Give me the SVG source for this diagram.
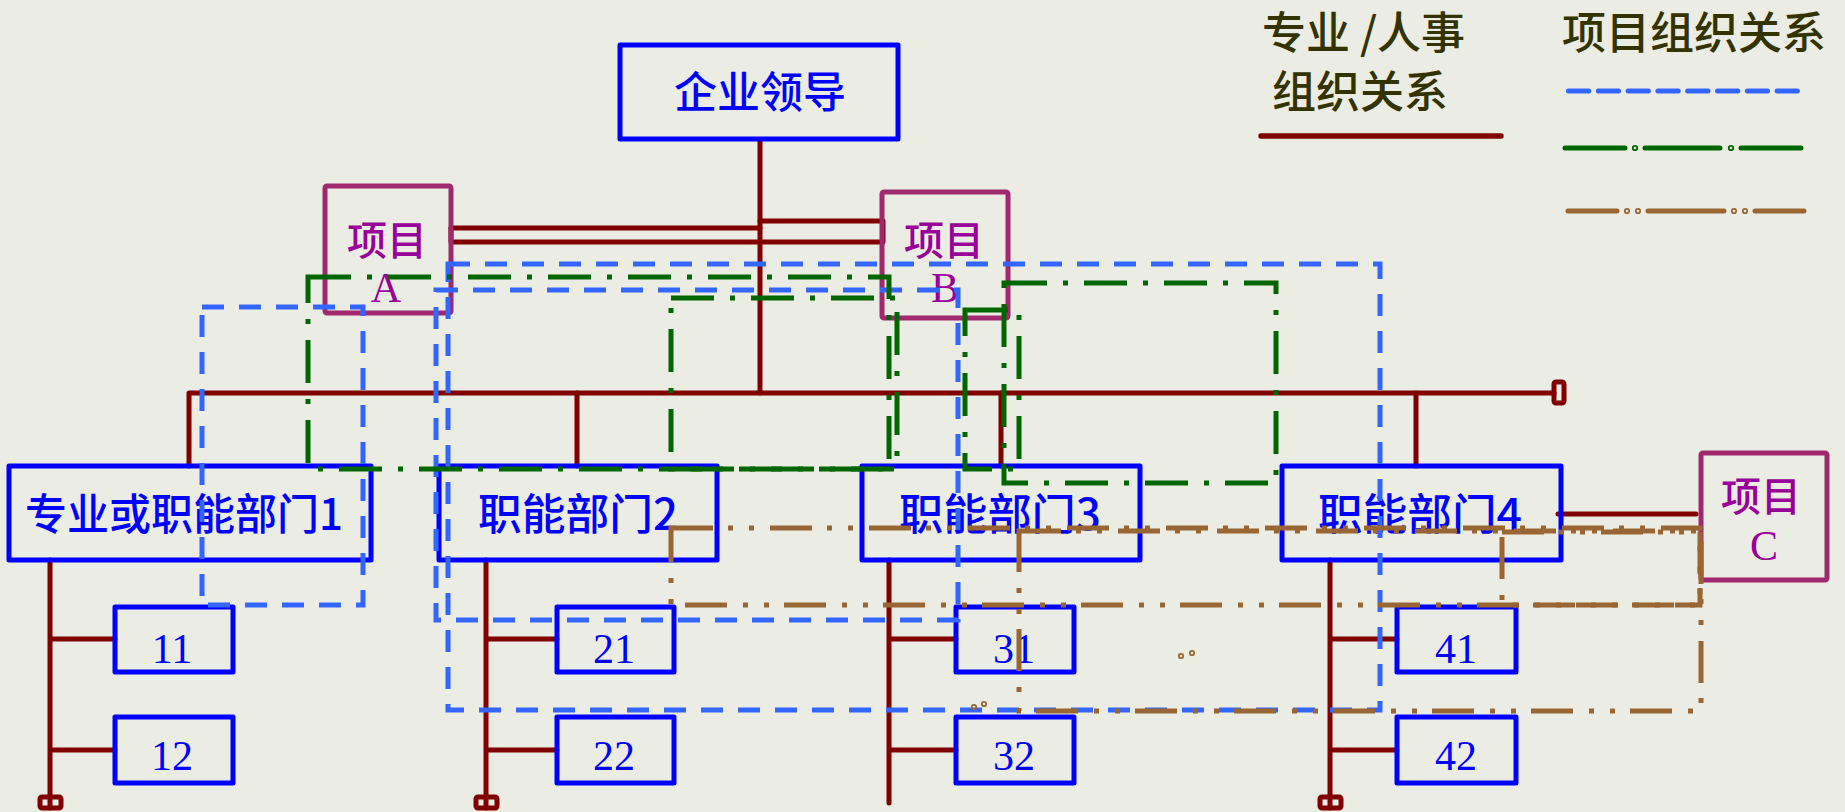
<svg xmlns="http://www.w3.org/2000/svg" width="1845" height="812" viewBox="0 0 1845 812">
<style>
.bg{fill:#EBECE3}
.box{fill:none;stroke:#0000FF;stroke-width:5;stroke-linejoin:round}
.pbox{fill:none;stroke:#A0286E;stroke-width:5;stroke-linejoin:round}
.red{fill:none;stroke:#800000;stroke-width:5;stroke-linecap:round;stroke-linejoin:round}
.blue{fill:none;stroke:#3366FF;stroke-width:5;stroke-dasharray:22 15}
.green{fill:none;stroke:#006600;stroke-width:5;stroke-dasharray:43 16 5 16}
.brown{fill:none;stroke:#996633;stroke-width:5;stroke-dasharray:42 15 5 16 5 16}
.cjk{font-family:"Noto Sans CJK SC","Liberation Sans",sans-serif;font-weight:500}
.dt{font-size:43px;fill:#0000FF;text-anchor:middle}
.num{font-family:"Liberation Serif",serif;font-size:42px;fill:#0000FF;text-anchor:middle}
.pt{font-size:40px;fill:#990099;text-anchor:middle}
.pl{font-family:"Liberation Serif",serif;font-size:42px;fill:#990099;text-anchor:middle}
.lg{font-size:44px;fill:#333300}
.ring{fill:none;stroke-width:1.8}
</style>
<rect class="bg" x="0" y="0" width="1845" height="812"/>

<g id="connectors">
  <path class="red" d="M760,140 V393"/>
  <path class="red" d="M451,228 H760"/>
  <path class="red" d="M451,228 V242 H883 V221 H760"/>
  <path class="red" d="M189,466 V393 H1554"/>
  <path class="red" d="M577,393 V466"/>
  <path class="red" d="M1001,393 V466"/>
  <path class="red" d="M1416,393 V466"/>
  <rect class="red" x="1554" y="382" width="10" height="21" rx="2"/>
  <path class="red" d="M50,560 V808 M50,639 H115 M50,750 H115"/>
  <rect class="red" x="40" y="797" width="21" height="11" rx="2"/>
  <path class="red" d="M486,560 V808 M486,639 H557 M486,750 H557"/>
  <rect class="red" x="476" y="797" width="21" height="11" rx="2"/>
  <path class="red" d="M889,560 V803 M889,639 H956 M889,750 H956"/>
  <path class="red" d="M1330,560 V808 M1330,639 H1397 M1330,750 H1397"/>
  <rect class="red" x="1320" y="797" width="21" height="11" rx="2"/>
  <path class="red" d="M1558,514 H1696"/>
</g>

<g id="leader">
  <rect class="box" x="620" y="45" width="278" height="94"/>
  <text class="cjk dt" x="760" y="108" font-size="44">企业领导</text>
</g>

<g id="projectA">
  <rect class="pbox" x="325" y="186" width="126" height="127" rx="2"/>
  <text class="cjk pt" x="387" y="255">项目</text>
  <text class="pl" x="386" y="302">A</text>
</g>
<g id="projectB">
  <rect class="pbox" x="882" y="192" width="126" height="126" rx="2"/>
  <text class="cjk pt" x="944" y="255">项目</text>
  <text class="pl" x="945" y="302">B</text>
</g>
<g id="projectC">
  <rect class="pbox" x="1701" y="453" width="126" height="127" rx="2"/>
  <text class="cjk pt" x="1761" y="511">项目</text>
  <text class="pl" x="1764" y="560" font-size="40">C</text>
</g>

<g id="dept1">
  <rect class="box" x="9" y="466" width="362" height="94"/>
  <text class="cjk dt" x="184" y="530" textLength="318" lengthAdjust="spacingAndGlyphs">专业或职能部门1</text>
</g>
<g id="dept2">
  <rect class="box" x="439" y="466" width="278" height="94"/>
  <text class="cjk dt" x="578" y="530" textLength="200" lengthAdjust="spacingAndGlyphs">职能部门2</text>
</g>
<g id="dept3">
  <rect class="box" x="862" y="466" width="278" height="94"/>
  <text class="cjk dt" x="1000" y="530" textLength="202" lengthAdjust="spacingAndGlyphs">职能部门3</text>
</g>
<g id="dept4">
  <rect class="box" x="1282" y="466" width="279" height="94"/>
  <text class="cjk dt" x="1420" y="530" textLength="204" lengthAdjust="spacingAndGlyphs">职能部门4</text>
</g>

<g id="unit11"><rect class="box" x="115" y="607" width="118" height="65"/><text class="num" x="172" y="663">11</text></g>
<g id="unit12"><rect class="box" x="115" y="717" width="118" height="66"/><text class="num" x="172" y="770">12</text></g>
<g id="unit21"><rect class="box" x="557" y="607" width="117" height="65"/><text class="num" x="614" y="663">21</text></g>
<g id="unit22"><rect class="box" x="557" y="717" width="117" height="66"/><text class="num" x="614" y="770">22</text></g>
<g id="unit31"><rect class="box" x="956" y="607" width="118" height="65"/><text class="num" x="1014" y="663">31</text></g>
<g id="unit32"><rect class="box" x="956" y="717" width="118" height="66"/><text class="num" x="1014" y="770">32</text></g>
<g id="unit41"><rect class="box" x="1397" y="607" width="119" height="65"/><text class="num" x="1456" y="663">41</text></g>
<g id="unit42"><rect class="box" x="1397" y="717" width="119" height="66"/><text class="num" x="1456" y="770">42</text></g>

<g id="project-boundaries">
  <rect class="blue" x="202" y="307" width="161" height="298"/>
  <rect class="blue" x="448" y="264" width="932" height="446"/>
  <rect class="blue" x="436" y="290" width="522" height="330"/>
  <rect class="green" x="308" y="277" width="581" height="192"/>
  <rect class="green" x="671" y="298" width="226" height="171"/>
  <rect class="green" x="965" y="310" width="54" height="159"/>
  <rect class="green" x="1004" y="283" width="272" height="200"/>
  <rect class="brown" x="671" y="528" width="1029" height="77"/>
  <rect class="brown" x="1019" y="531" width="682" height="180"/>
  <rect class="brown" x="1502" y="532" width="198" height="73"/>
  <g class="ring" stroke="#996633">
    <circle cx="1181" cy="656" r="2.2"/><circle cx="1192" cy="653" r="2.2"/>
    <circle cx="974" cy="707" r="2.2"/><circle cx="984" cy="704" r="2.2"/>
  </g>
</g>

<g id="legend">
  <text class="cjk lg" x="1262" y="49">专业 /人事</text>
  <text class="cjk lg" x="1272" y="108">组织关系</text>
  <text class="cjk lg" x="1562" y="49">项目组织关系</text>
  <path d="M1261,136 H1501" fill="none" stroke="#800000" stroke-width="5.5" stroke-linecap="round"/>
  <path d="M1568.5,91 H1801" fill="none" stroke="#3366FF" stroke-width="5" stroke-linecap="round" stroke-dasharray="20.3 9.5"/>
  <path d="M1565,148 H1625 M1645,148 H1720 M1741,148 H1801" fill="none" stroke="#006600" stroke-width="5" stroke-linecap="round"/>
  <g class="ring" stroke="#006600"><circle cx="1635" cy="148" r="2.2"/><circle cx="1731" cy="148" r="2.2"/></g>
  <path d="M1568,211 H1617 M1648,211 H1724 M1755,211 H1804" fill="none" stroke="#996633" stroke-width="5" stroke-linecap="round"/>
  <g class="ring" stroke="#996633"><circle cx="1627" cy="211" r="2.2"/><circle cx="1638" cy="211" r="2.2"/><circle cx="1734" cy="211" r="2.2"/><circle cx="1745" cy="211" r="2.2"/></g>
</g>
</svg>
